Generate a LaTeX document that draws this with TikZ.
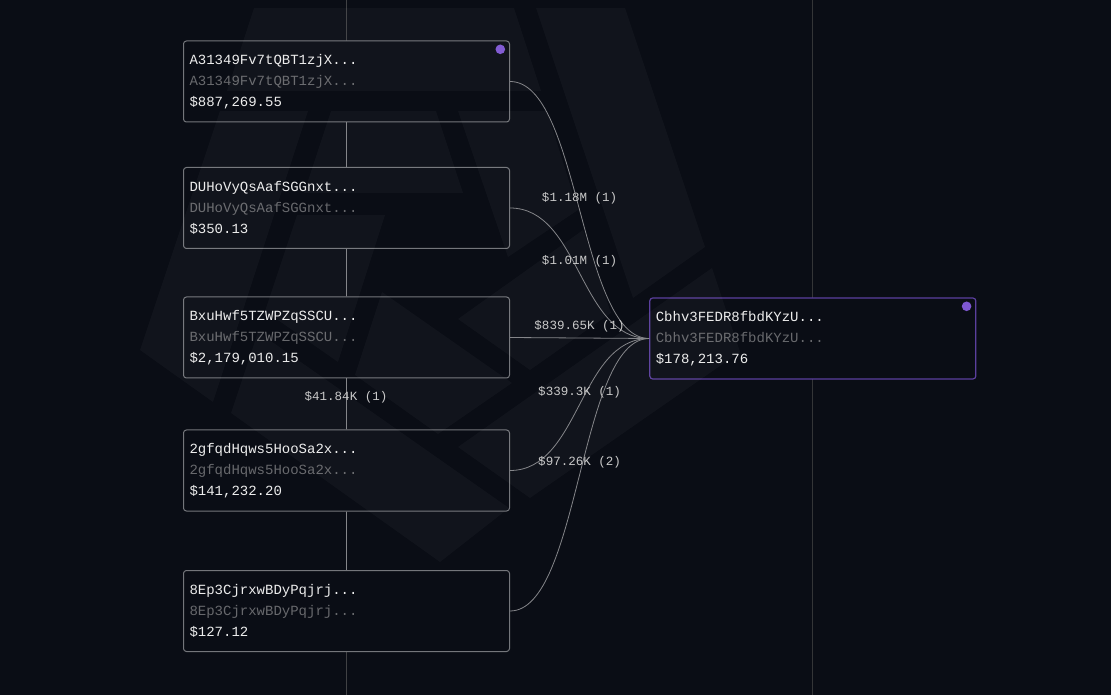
\documentclass[tikz,border=0pt]{standalone}
\usepackage{fontspec}
\setmonofont{Liberation Mono}
\usepackage{xcolor}
\usetikzlibrary{calc}
\definecolor{bgdark}{HTML}{0A0D15}
\definecolor{boxline}{HTML}{74767B}
\definecolor{purpleline}{HTML}{5B3F9E}
\definecolor{purpledot}{HTML}{7E57D2}
\definecolor{flowline}{HTML}{85868A}
\definecolor{textmain}{HTML}{EDEDED}
\definecolor{textdim}{HTML}{68696D}
\definecolor{textlabel}{HTML}{C9C9C9}
\tikzset{
    wallet/.style={draw=boxline, line width=0.75pt, fill=bgdark, rounded corners=2.2pt,
        minimum width=244.5pt, minimum height=60.75pt, text width=235.5pt, inner xsep=4.5pt, inner ysep=0pt,
        align=left, text=textmain, font=\ttfamily\fontsize{10.5}{15.75}\selectfont},
    target/.style={wallet, draw=purpleline, line width=0.9pt},
    dotmark/.style={circle, fill=purpledot, inner sep=0pt, minimum size=7.2pt},
    column/.style={line width=0.75pt},
    flow/.style={draw=flowline, line width=0.6pt},
    flowlabel/.style={text=textlabel, inner sep=0pt, font=\ttfamily\fontsize{9.4}{11}\selectfont},
    watermark/.style={fill=white, fill opacity=0.03}
}
\newcommand{\walletlines}[2]{#1\\\textcolor{textdim}{#1}\\#2}
\begin{document}
\begin{tikzpicture}[x=0.75pt, y=-0.75pt]
    \useasboundingbox (0, 0) rectangle (1111, 695);
    \fill[bgdark] (0, 0) rectangle (1111, 695);

    % columns
    \coordinate (lefttop) at (346.5, 0);
    \coordinate (leftbottom) at (346.5, 695);
    \coordinate (righttop) at (812.5, 0);
    \coordinate (rightbottom) at (812.5, 695);
    \draw[column, color=black!45!boxline] (lefttop) -- (leftbottom);
    \draw[column, color=black!55!boxline] (righttop) -- (rightbottom);

    % wallets
    \node[wallet] (walletA) at (346.5, 81.5) {\walletlines{A31349Fv7tQBT1zjX...}{\$887,269.55}};
    \node[wallet] (walletD) at (346.5, 208) {\walletlines{DUHoVyQsAafSGGnxt...}{\$350.13}};
    \node[wallet] (walletB) at (346.5, 337.5) {\walletlines{BxuHwf5TZWPZqSSCU...}{\$2,179,010.15}};
    \node[wallet] (walletG) at (346.5, 470.5) {\walletlines{2gfqdHqws5HooSa2x...}{\$141,232.20}};
    \node[wallet] (walletE) at (346.5, 611) {\walletlines{8Ep3CjrxwBDyPqjrj...}{\$127.12}};
    \node[target] (walletC) at (812.8, 338.5) {\walletlines{Cbhv3FEDR8fbdKYzU...}{\$178,213.76}};
    \node[dotmark] (dotA) at (500.3, 49.3) {};
    \node[dotmark] (dotC) at (966.6, 306.3) {};

    % watermark
    \fill[watermark] (254, 8) -- (514, 8) -- (541, 91) -- (227, 91) -- cycle;
    \fill[watermark] (536, 8) -- (625, 8) -- (705, 247) -- (633, 298) -- cycle;
    \fill[watermark] (458, 111) -- (547, 111) -- (578, 210) -- (508, 257) -- cycle;
    \fill[watermark] (220, 111) -- (308, 111) -- (213, 402) -- (140, 350) -- cycle;
    \fill[watermark] (331, 111) -- (436, 111) -- (463, 193) -- (304, 193) -- cycle;
    \fill[watermark] (297, 215) -- (385, 215) -- (338, 362) -- (265, 311) -- cycle;
    \fill[watermark] (258, 332) -- (509, 508) -- (440, 562) -- (231, 413) -- cycle;
    \fill[watermark] (382, 292) -- (512, 383) -- (438, 434) -- (355, 375) -- cycle;
    \fill[watermark] (458, 319) -- (583, 230) -- (611, 313) -- (530, 370) -- cycle;
    \fill[watermark] (458, 447) -- (712, 268) -- (740, 352) -- (530, 498) -- cycle;

    % flows
    \draw[flow] (walletA.south) -- (walletD.north);
    \draw[flow] (walletD.south) -- (walletB.north);
    \draw[flow] (walletB.south) -- (walletG.north);
    \draw[flow] (walletG.south) -- (walletE.north);
    \foreach \src/\txt in {walletA/\$1.18M (1), walletD/\$1.01M (1), walletB/\$839.65K (1), walletG/\$339.3K (1), walletE/\$97.26K (2)} {
        \draw[flow] (\src.east) .. controls ($(\src.east)+(70, 0)$) and ($(walletC.west)-(70, 0)$) .. (walletC.west)
            node[flowlabel, midway, yshift=9pt] (label\src) {\txt};
    }
    \node[flowlabel] (labelBG) at (346, 397) {\$41.84K (1)};
\end{tikzpicture}
\end{document}
